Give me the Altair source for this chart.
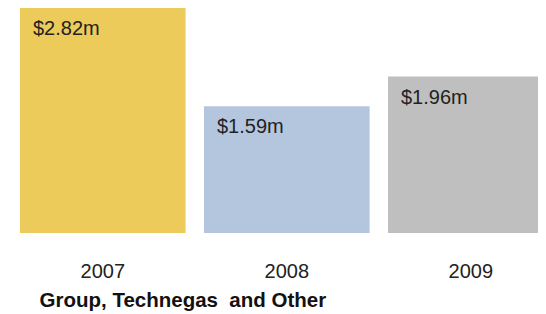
import altair as alt
import pandas as pd

years = ["2007", "2008", "2009"]
values = [2.82, 1.59, 1.96]
labels = ["$2.82m", "$1.59m", "$1.96m"]
colors = ["#EDCB5A", "#B4C6DD", "#BFBFBF"]

df = pd.DataFrame({"year": years, "value": values, "label": labels})

x_scale = alt.Scale(domain=years, range=[12, 12 + 2.9 * 184], paddingInner=0.1, paddingOuter=0)
y_scale = alt.Scale(domain=[0, 2.82], nice=False, zero=True)

base = alt.Chart(df)

bars = base.mark_bar(clip=True).encode(
    x=alt.X("year:N", scale=x_scale, sort=years,
            axis=alt.Axis(title="Group, Technegas\u00a0 and Other", labelAngle=0, domain=False,
                          ticks=False, tickSize=0, labelFontSize=20, labelFont="Liberation Sans",
                          labelColor="#222222", labelPadding=44, labelBaseline="alphabetic",
                          titleFontSize=20.5, titleFont="Liberation Sans", titleFontWeight="bold",
                          titleColor="#111111", titleX=31, titleY=73, titleAlign="left",
                          titleBaseline="alphabetic", grid=False)),
    y=alt.Y("value:Q", scale=y_scale, axis=None),
    color=alt.Color("year:N", scale=alt.Scale(domain=years, range=colors), legend=None),
)

text = base.mark_text(align="left", baseline="alphabetic", dx=13, dy=27, fontSize=20,
                      font="Liberation Sans", color="#222222", clip=True).encode(
    x=alt.X("year:N", scale=x_scale, sort=years, bandPosition=0),
    y=alt.Y("value:Q", scale=y_scale),
    text="label:N",
)

chart = (bars + text).properties(
    width=530, height=225,
    padding={"left": 0, "top": 0, "right": 0, "bottom": 80},
    autosize=alt.AutoSizeParams(type="none"),
    background="white",
).configure_view(stroke=None)

chart.save("out.html", embed_options={"renderer": "svg", "actions": False})
